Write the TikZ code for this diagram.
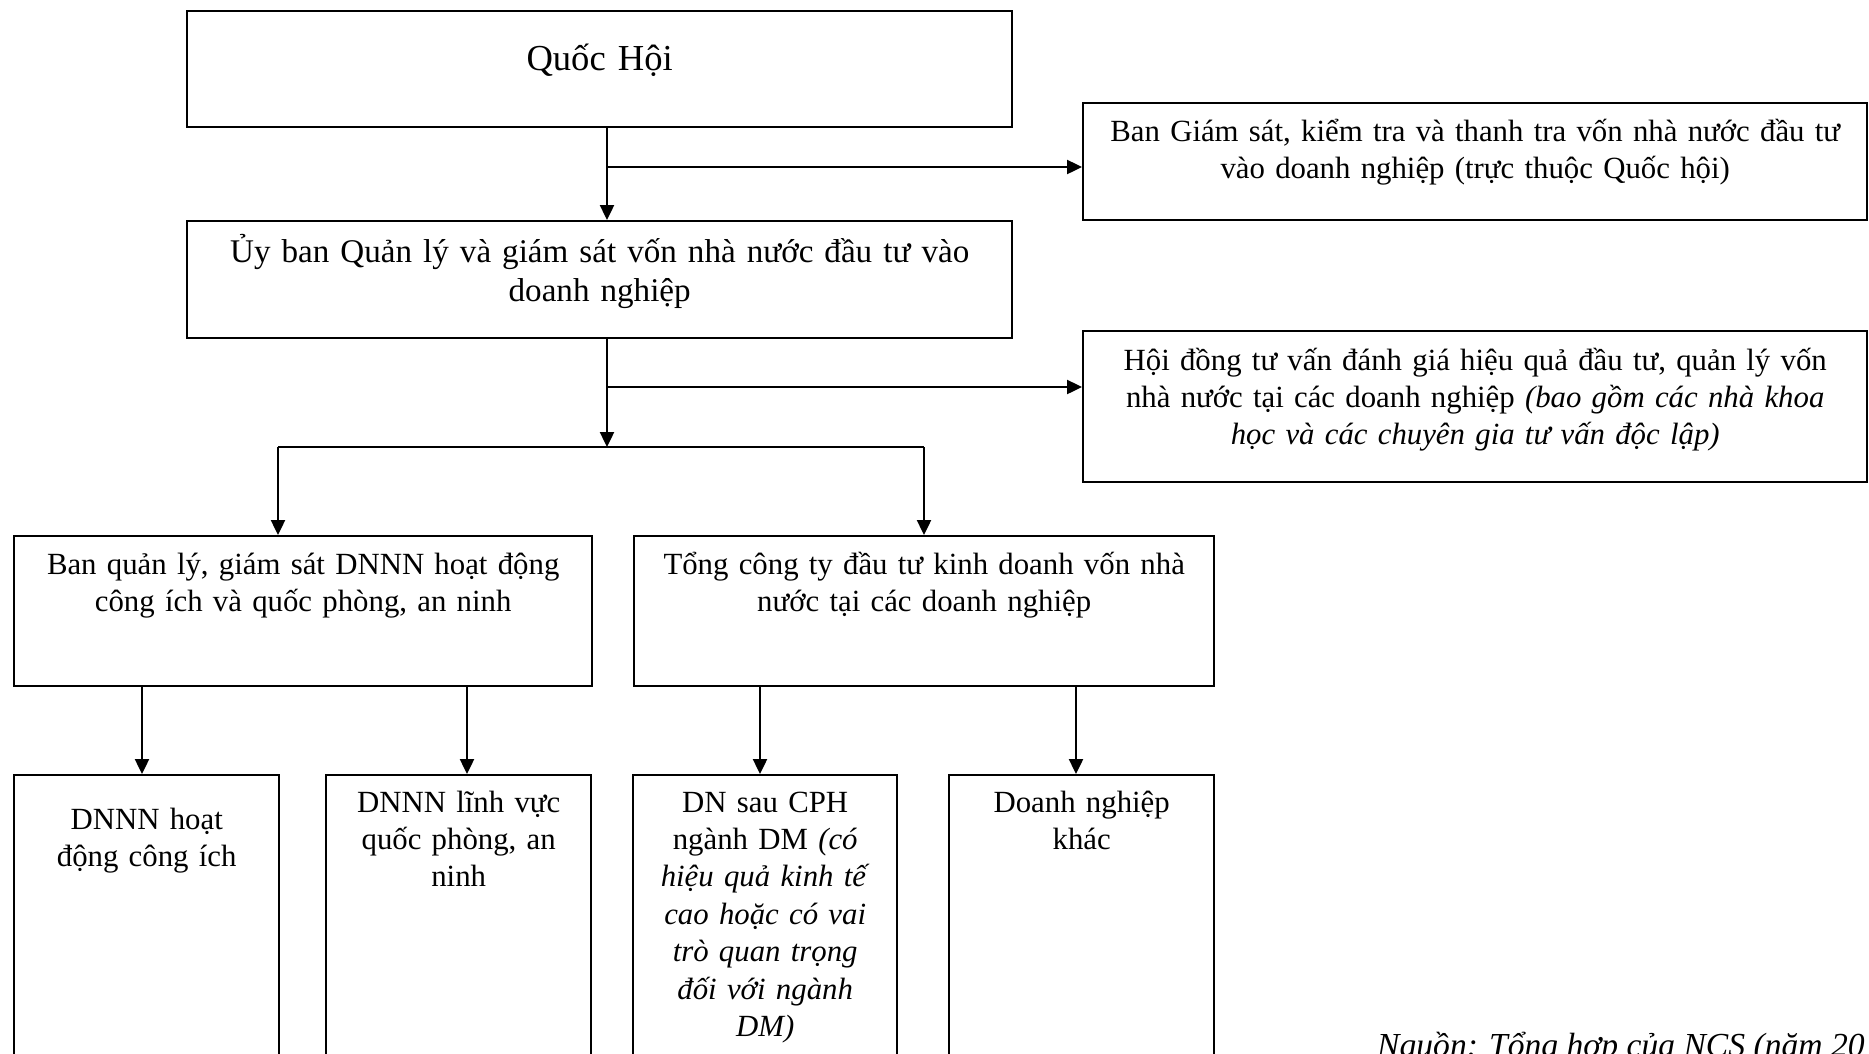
\documentclass[tikz,border=0pt]{standalone}
\usepackage{fontspec}
\setmainfont{Liberation Serif}
\usetikzlibrary{arrows.meta,calc}
\begin{document}
\begin{tikzpicture}[x=1pt,y=-1pt,
  box/.style={draw, line width=2.4pt, rectangle, inner sep=0pt, anchor=north west},
  lbl/.style={anchor=base, align=center, inner sep=0pt},
  big/.style={font=\fontsize{36.6}{42}\selectfont},
  mid/.style={font=\fontsize{33.1}{39.5}\selectfont},
  small/.style={font=\fontsize{30.8}{37}\selectfont},
  tall/.style={font=\fontsize{30.8}{37.4}\selectfont},
  ln/.style={line width=2.4pt},
  arr/.style={line width=2.4pt, -{Triangle[length=15pt,width=14pt]}}]
\useasboundingbox (0,0) rectangle (1869,1053);
\clip (0,0) rectangle (1869,1053);

% boxes
\node[box, minimum width=825pt, minimum height=116.5pt] (qh)  at (186,9.5) {};
\node[box, minimum width=784pt, minimum height=117pt]   (bgs) at (1082,102) {};
\node[box, minimum width=825pt, minimum height=117pt]   (uy)  at (186,220) {};
\node[box, minimum width=784pt, minimum height=151pt]   (hd)  at (1082,330) {};
\node[box, minimum width=578pt, minimum height=150pt]   (bql) at (13,535) {};
\node[box, minimum width=580pt, minimum height=150pt]   (tct) at (633,535) {};
\node[box, minimum width=265pt, minimum height=400pt]   (g1)  at (13,774) {};
\node[box, minimum width=265pt, minimum height=400pt]   (g2)  at (325,774) {};
\node[box, minimum width=264pt, minimum height=400pt]   (g3)  at (632,774) {};
\node[box, minimum width=265pt, minimum height=400pt]   (g4)  at (948,774) {};

% texts
\node[lbl, big, text width=800pt] (tqh) at ($(qh.north)+(0,60.5)$) {Quốc Hội};
\node[lbl, small, text width=770pt] (tbgs) at ($(bgs.north)+(0,39)$)
  {Ban Giám sát, kiểm tra và thanh tra vốn nhà nước đầu tư\\vào doanh nghiệp (trực thuộc Quốc hội)};
\node[lbl, mid, text width=810pt] (tuy) at ($(uy.north)+(0,42)$)
  {Ủy ban Quản lý và giám sát vốn nhà nước đầu tư vào\\doanh nghiệp};
\node[lbl, small, text width=770pt] (thd) at ($(hd.north)+(0,40)$)
  {Hội đồng tư vấn đánh giá hiệu quả đầu tư, quản lý vốn\\nhà nước tại các doanh nghiệp \textit{(bao gồm các nhà khoa}\\\textit{học và các chuyên gia tư vấn độc lập)}};
\node[lbl, small, text width=570pt] (tbql) at ($(bql.north)+(0,39.5)$)
  {Ban quản lý, giám sát DNNN hoạt động\\công ích và quốc phòng, an ninh};
\node[lbl, small, text width=570pt] (ttct) at ($(tct.north)+(0,39.5)$)
  {Tổng công ty đầu tư kinh doanh vốn nhà\\nước tại các doanh nghiệp};
\node[lbl, tall, text width=260pt] (tg1) at ($(g1.north)+(0,55)$)
  {DNNN hoạt\\động công ích};
\node[lbl, tall, text width=260pt] (tg2) at ($(g2.north)+(0,38)$)
  {DNNN lĩnh vực\\quốc phòng, an\\ninh};
\node[lbl, tall, text width=260pt] (tg3) at ($(g3.north)+(0,38)$)
  {DN sau CPH\\ngành DM \textit{(có}\\\textit{hiệu quả kinh tế}\\\textit{cao hoặc có vai}\\\textit{trò quan trọng}\\\textit{đối với ngành}\\\textit{DM)}};
\node[lbl, tall, text width=260pt] (tg4) at ($(g4.north)+(0,38)$)
  {Doanh nghiệp\\khác};
\node[anchor=base west, inner sep=0pt, font=\fontsize{33.6}{40}\selectfont\itshape] (src) at (1377,1056)
  {Nguồn: Tổng hợp của NCS (năm 20};

% connectors
\coordinate (v) at (607,0);
\coordinate (j1) at (607,167);
\coordinate (j2) at (607,387);
\coordinate (bar) at (607,447);
\coordinate (barL) at (278,447);
\coordinate (barR) at (924,447);
\coordinate (d1) at (142,0);
\coordinate (d2) at (467,0);
\coordinate (d3) at (760,0);
\coordinate (d4) at (1076,0);

\draw[arr] (v |- qh.south) -- (v |- uy.north);
\draw[arr] (j1) -- (j1 -| bgs.west);
\draw[arr] (v |- uy.south) -- (bar);
\draw[arr] (j2) -- (j2 -| hd.west);
\draw[ln] (barL) -- (barR);
\draw[arr] (barL) -- (barL |- bql.north);
\draw[arr] (barR) -- (barR |- tct.north);
\draw[arr] (d1 |- bql.south) -- (d1 |- g1.north);
\draw[arr] (d2 |- bql.south) -- (d2 |- g2.north);
\draw[arr] (d3 |- tct.south) -- (d3 |- g3.north);
\draw[arr] (d4 |- tct.south) -- (d4 |- g4.north);
\end{tikzpicture}
\end{document}
